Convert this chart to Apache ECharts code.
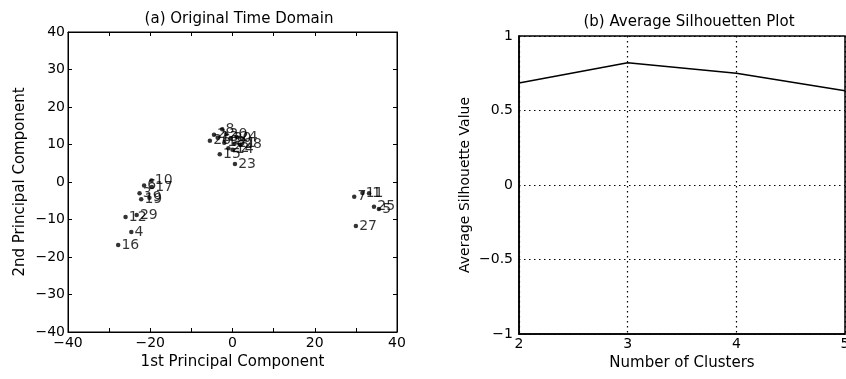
<!DOCTYPE html>
<html><head><meta charset="utf-8">
<script src="https://cdn.jsdelivr.net/npm/echarts@6/dist/echarts.min.js"></script>
<style>html,body{margin:0;padding:0;background:#fff}#c{width:846px;height:379px}</style>
</head><body><div id="c"></div>
<script>
// Panel (a): PCA scatter
const pointLabels = ['16','4','12','29','19','9','3','6','10','17',
  '26','2','8','13','20','30','24','18','21','22','28','15','14','23',
  '7','11','1','25','5','27'];
const pc1 = [-27.8,-24.6,-26.0,-23.3,-22.2,-20.2,-22.6,-21.5,-19.7,-19.6,
  -5.5,-4.5,-2.5,-3.6,-1.5,-0.5,1.0,-2.0,0.5,-1.0,2.0,-3.1,0.0,0.6,
  29.6,31.6,33.2,34.4,35.6,30.0];
const pc2 = [-16.8,-13.3,-9.3,-8.8,-4.6,-4.2,-3.0,-0.9,0.4,-1.3,
  11.0,12.6,14.1,11.8,12.8,11.6,12.0,10.5,10.2,9.0,10.0,7.4,8.6,4.8,
  -3.9,-2.9,-3.0,-6.6,-7.2,-11.7];
const axisTicksA = [-40,-30,-20,-10,0,10,20,30,40];

// Panel (b): Average silhouette
const clusters = [2,3,4,5];
const silhouette = [0.685,0.82,0.75,0.633];

const font = 'DejaVu Sans, Liberation Sans, Arial, sans-serif';
const black = '#000';
const tickLbl = {color: black, fontFamily: font, fontSize: 14};

const chart = echarts.init(document.getElementById('c'));
const scatterData = pc1.map((x,i)=>({value:[x,pc2[i]], name: pointLabels[i]}));

function frameAxis(type, gridIndex, opts) {
  return Object.assign({
    gridIndex, type: 'value',
    axisLine: {show: true, onZero: false, lineStyle: {color: black, width: 1}},
    axisTick: {show: true, inside: true, length: 4, lineStyle: {color: black}},
    axisLabel: {show: false},
    splitLine: {show: false}
  }, opts);
}

chart.setOption({
  animation: false,
  backgroundColor: '#fff',
  title: [
    {text: '(a) Original Time Domain', left: 234, top: 7, textAlign: 'center',
     textStyle: {fontFamily: font, fontSize: 15, fontWeight: 'normal', color: black}},
    {text: '(b) Average Silhouetten Plot', left: 684, top: 10, textAlign: 'center',
     textStyle: {fontFamily: font, fontSize: 15, fontWeight: 'normal', color: black}}
  ],
  grid: [
    {left: 68, top: 32, width: 329, height: 300, show: true, borderColor: black, borderWidth: 1,
     backgroundColor: 'transparent', outerBoundsMode: 'none', containLabel: false},
    {left: 519, top: 36, width: 326, height: 298, show: true, borderColor: black, borderWidth: 1.5,
     backgroundColor: 'transparent', outerBoundsMode: 'none', containLabel: false}
  ],
  xAxis: [
    frameAxis('x', 0, {min: -40, max: 40, interval: 10, position: 'bottom',
      name: '1st Principal Component', nameLocation: 'middle', nameGap: 21,
      nameTextStyle: {fontFamily: font, fontSize: 15, color: black},
      axisLabel: Object.assign({show: true, margin: 4,
        formatter: v => (v % 20 === 0 ? String(v).replace('-', '\u2212') : '')}, tickLbl)}),
    frameAxis('x', 0, {min: -40, max: 40, interval: 10, position: 'top'}),
    {gridIndex: 1, type: 'value', min: 2, max: 5, interval: 1, position: 'bottom',
      name: 'Number of Clusters', nameLocation: 'middle', nameGap: 19,
      nameTextStyle: {fontFamily: font, fontSize: 15, color: black},
      axisLine: {show: true, onZero: false, lineStyle: {color: black, width: 1.5}},
      axisTick: {show: false},
      axisLabel: Object.assign({margin: 3}, tickLbl),
      splitLine: {show: true, lineStyle: {color: black, type: [1.5, 3.5], width: 1.2}}}
  ],
  yAxis: [
    frameAxis('y', 0, {min: -40, max: 40, interval: 10, position: 'left',
      name: '2nd Principal Component', nameLocation: 'middle', nameGap: 40,
      nameTextStyle: {fontFamily: font, fontSize: 15, color: black},
      axisLabel: Object.assign({show: true, margin: 3,
        formatter: v => String(v).replace('-', '\u2212')}, tickLbl)}),
    frameAxis('y', 0, {min: -40, max: 40, interval: 10, position: 'right'}),
    {gridIndex: 1, type: 'value', min: -1, max: 1, interval: 0.5, position: 'left',
      name: 'Average Silhouette Value', nameLocation: 'middle', nameGap: 47,
      nameTextStyle: {fontFamily: font, fontSize: 14, color: black},
      axisLine: {show: true, onZero: false, lineStyle: {color: black, width: 1.5}},
      axisTick: {show: false},
      axisLabel: Object.assign({margin: 6, formatter: v => String(v).replace('-', '\u2212')}, tickLbl),
      splitLine: {show: true, lineStyle: {color: black, type: [1.5, 3.5], width: 1.2}}}
  ],
  series: [
    {type: 'scatter', xAxisIndex: 0, yAxisIndex: 0, data: scatterData,
     symbol: 'circle', symbolSize: 4.5, itemStyle: {color: black},
     label: {show: true, position: 'right', distance: 1, formatter: p => p.name,
       fontFamily: font, fontSize: 14, color: black, textBorderWidth: 0}},
    {type: 'line', xAxisIndex: 2, yAxisIndex: 2,
     data: clusters.map((c,i)=>[c, silhouette[i]]),
     showSymbol: false, symbol: 'none', lineStyle: {color: black, width: 1.5}}
  ]
});
</script></body></html>
